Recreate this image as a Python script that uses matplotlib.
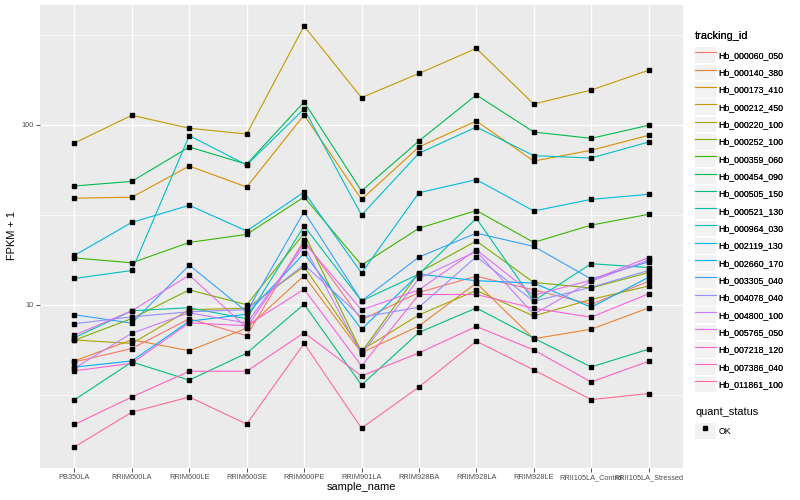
import matplotlib
matplotlib.use("Agg")
import matplotlib.pyplot as plt
import numpy as np
from matplotlib.lines import Line2D
from matplotlib.patches import Rectangle
from matplotlib.legend_handler import HandlerLine2D

plt.rcParams['font.family'] = ['Liberation Sans', 'DejaVu Sans']

samples = ["PB350LA", "RRIM600LA", "RRIM600LE", "RRIM600SE", "RRIM600PE", "RRIM901LA",
           "RRIM928BA", "RRIM928LA", "RRIM928LE", "RRII105LA_Control", "RRII105LA_Stressed"]

tracking_ids = ["Hb_000060_050", "Hb_000140_380", "Hb_000173_410", "Hb_000212_450",
                "Hb_000220_100", "Hb_000252_100", "Hb_000359_060", "Hb_000454_090",
                "Hb_000505_150", "Hb_000521_130", "Hb_000964_030", "Hb_002119_130",
                "Hb_002660_170", "Hb_003305_040", "Hb_004078_040", "Hb_004800_100",
                "Hb_005765_050", "Hb_007218_120", "Hb_007386_040", "Hb_011861_100"]

colors = ["#F8766D", "#EA8331", "#D89000", "#C09B00", "#A3A500", "#7CAE00", "#39B600",
          "#00BB4E", "#00BF7D", "#00C1A3", "#00BFC4", "#00BAE0", "#00B0F6", "#35A2FF",
          "#9590FF", "#C77CFF", "#E76BF3", "#FA62DB", "#FF62BC", "#FF6C91"]

# FPKM + 1 values per gene, in sample order
hb_000060_050 = [4.81, 5.71, 8.36, 6.73, 22.8, 8.24, 11.7, 14.4, 12.1, 10.06, 13.5]
hb_000140_380 = [4.87, 6.39, 5.55, 7.41, 14.5, 5.41, 7.62, 13.2, 6.47, 7.31, 9.6]
hb_000173_410 = [39.1, 39.6, 59.0, 45.1, 113.3, 38.5, 75.3, 105.0, 62.9, 72.2, 87.4]
hb_000212_450 = [79.2, 113.0, 95.7, 88.9, 354.0, 141.6, 193.0, 266.0, 130.5, 156.0, 201.0]
hb_000220_100 = [6.37, 6.09, 9.38, 9.56, 16.3, 5.59, 8.78, 12.0, 8.66, 10.7, 12.7]
hb_000252_100 = [6.35, 8.38, 12.1, 10.0, 24.9, 5.45, 15.1, 22.6, 13.3, 12.4, 15.1]
hb_000359_060 = [18.2, 17.1, 22.2, 24.6, 39.7, 16.6, 26.6, 33.4, 22.2, 27.7, 31.8]
hb_000454_090 = [45.7, 48.5, 75.3, 60.4, 134.0, 42.9, 81.3, 146.5, 91.2, 84.1, 99.4]
hb_000505_150 = [2.96, 4.81, 3.81, 5.38, 10.06, 3.58, 7.01, 9.6, 6.52, 4.51, 5.66]
hb_000521_130 = [6.56, 9.26, 9.62, 8.36, 27.4, 10.5, 14.8, 30.2, 10.5, 16.9, 16.1]
hb_000964_030 = [14.0, 15.5, 87.1, 59.8, 122.4, 31.5, 69.5, 97.2, 67.4, 65.4, 80.2]
hb_002119_130 = [18.8, 28.7, 35.7, 25.7, 42.3, 15.0, 41.9, 49.6, 33.2, 38.5, 41.1]
hb_002660_170 = [4.50, 4.87, 8.10, 8.86, 19.3, 7.31, 14.8, 13.6, 13.2, 9.68, 14.2]
hb_003305_040 = [8.8, 7.9, 16.6, 9.14, 32.9, 10.5, 18.4, 25.0, 21.1, 13.9, 17.3]
hb_004078_040 = [7.84, 8.56, 9.14, 9.38, 16.7, 8.53, 9.68, 18.5, 10.45, 12.5, 15.5]
hb_004800_100 = [4.44, 6.95, 9.03, 7.9, 21.2, 5.31, 14.0, 19.8, 8.86, 13.5, 17.7]
hb_005765_050 = [6.77, 9.26, 14.6, 7.45, 22.2, 9.36, 12.1, 20.2, 11.3, 13.7, 18.3]
hb_007218_120 = [4.29, 4.73, 7.94, 7.64, 12.2, 4.57, 11.4, 11.4, 9.56, 8.53, 11.5]
hb_007386_040 = [2.16, 3.07, 4.27, 4.27, 6.99, 4.02, 5.40, 7.57, 5.61, 3.72, 4.85]
hb_011861_100 = [1.62, 2.53, 3.07, 2.17, 6.09, 2.06, 3.49, 6.27, 4.34, 2.97, 3.21]

series = [hb_000060_050, hb_000140_380, hb_000173_410, hb_000212_450, hb_000220_100,
          hb_000252_100, hb_000359_060, hb_000454_090, hb_000505_150, hb_000521_130,
          hb_000964_030, hb_002119_130, hb_002660_170, hb_003305_040, hb_004078_040,
          hb_004800_100, hb_005765_050, hb_007218_120, hb_007386_040, hb_011861_100]

W, H = 800, 500
fig = plt.figure(figsize=(8, 5), dpi=100)
ax = fig.add_axes([40 / W, 1 - 468 / H, (683 - 40) / W, (468 - 5) / H])
ax.set_facecolor("#EBEBEB")
for s in ax.spines.values():
    s.set_visible(False)

x = np.arange(len(samples))
for vals, c in zip(series, colors):
    ax.plot(x, vals, color=c, lw=0.8, zorder=3)
for vals in series:
    ax.plot(x, vals, linestyle='none', marker='s', markersize=2.2, color='black', zorder=4)

ax.set_yscale('log')
allv = np.concatenate([np.array(v) for v in series])
lo, hi = np.log10(allv.min()), np.log10(allv.max())
pad = 0.05 * (hi - lo)
ax.set_ylim(10 ** (lo - pad), 10 ** (hi + pad))
ax.set_xlim(-0.6, len(samples) - 0.4)

ax.set_yticks([10, 100])
ax.set_yticklabels(["10", "100"])
ax.set_yticks([10 ** 0.5, 10 ** 1.5, 10 ** 2.5], minor=True)
ax.yaxis.set_minor_formatter(matplotlib.ticker.NullFormatter())
ax.set_xticks(x)
ax.set_xticklabels(samples)

ax.grid(which='major', color='white', lw=1.0, zorder=1)
ax.grid(which='minor', axis='y', color='white', lw=0.5, zorder=1)
ax.set_axisbelow(True)
ax.tick_params(which='major', length=2.7, width=0.6, color='#333333',
               labelsize=5.3, labelcolor='#4D4D4D', pad=1.6)
ax.tick_params(which='minor', length=0)

fig.text((40 + 683) / 2 / W, 1 - 487 / H, "sample_name", ha='center', va='center', fontsize=7.9)
fig.text(12 / W, 1 - 236 / H, "FPKM + 1", ha='center', va='center', rotation=90, fontsize=7.9)


class KeyHandler(HandlerLine2D):
    def create_artists(self, legend, orig_handle, xdescent, ydescent, width, height, fontsize, trans):
        arts = super().create_artists(legend, orig_handle, xdescent, ydescent, width, height, fontsize, trans)
        r = Rectangle((-xdescent, -ydescent + 0.6), width, height - 1.2,
                      facecolor='#F2F2F2', edgecolor='none', transform=trans)
        return [r] + list(arts)


handles = [Line2D([], [], color=c, lw=0.8) for c in colors]
leg_kw = dict(loc='upper left', frameon=False, fontsize=6.3, title_fontsize=7.9,
              handlelength=2.35, handleheight=2.67, labelspacing=0,
              handletextpad=0.3, borderpad=0, borderaxespad=0, alignment='left',
              handler_map={Line2D: KeyHandler()})
leg1 = fig.legend(handles, tracking_ids, title="tracking_id",
                  bbox_to_anchor=(695 / W, 1 - 31 / H), **leg_kw)
leg1._legend_box.sep = 4
fig.add_artist(leg1)

ok_handle = Line2D([], [], linestyle='none', marker='s', markersize=2.2, color='black')
leg2 = fig.legend([ok_handle], ["OK"], title="quant_status",
                  bbox_to_anchor=(695 / W, 1 - 407 / H), **leg_kw)
leg2._legend_box.sep = 4

fig.savefig("out.png", dpi=100, facecolor='white')
